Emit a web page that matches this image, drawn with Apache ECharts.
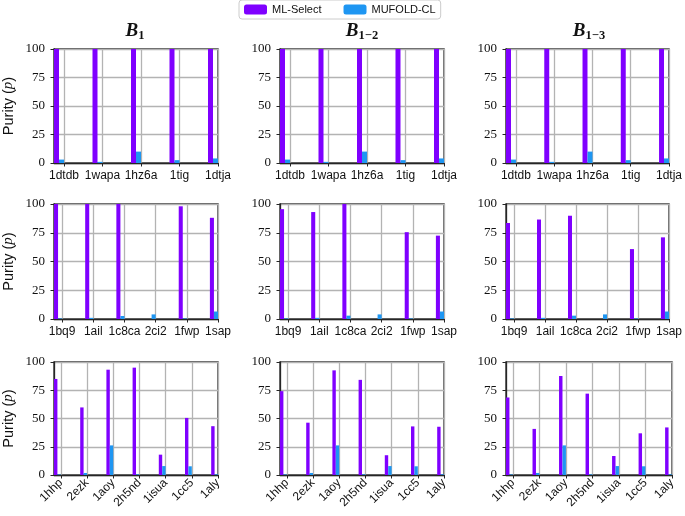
<!DOCTYPE html>
<html>
<head>
<meta charset="utf-8">
<script src="https://cdn.jsdelivr.net/npm/echarts@6/dist/echarts.min.js"></script>
<style>html,body{margin:0;padding:0;background:#fff}#c{width:685px;height:516px}</style>
</head>
<body>
<div id="c"></div>
<script>
const legendNames = ['ML-Select', 'MUFOLD-CL'];
const panelSubscripts = ['1', '1\u22122', '1\u22123'];
const yTickValues = [0, 25, 50, 75, 100];

const row1Categories = ['1dtdb', '1wapa', '1hz6a', '1tig', '1dtja'];
const row2Categories = ['1bq9', '1ail', '1c8ca', '2ci2', '1fwp', '1sap'];
const row3Categories = ['1hhp', '2ezk', '1aoy', '2h5nd', '1isua', '1cc5', '1aly'];

// Row 1
const mlSelectRow1B1   = [100, 100, 100, 100, 100];
const mufoldRow1B1     = [3, 1, 10, 2.5, 4];
const mlSelectRow1B12  = [100, 100, 100, 100, 100];
const mufoldRow1B12    = [3, 1, 10, 2.5, 4];
const mlSelectRow1B13  = [100, 100, 100, 100, 100];
const mufoldRow1B13    = [3, 1, 10, 2.5, 4];
// Row 2
const mlSelectRow2B1   = [100, 100, 100, null, 98, 88];
const mufoldRow2B1     = [0.5, 1, 2.6, 4, 0.5, 6.5];
const mlSelectRow2B12  = [95.5, 93, 100, null, 75.5, 72.5];
const mufoldRow2B12    = [0.5, 1, 2.9, 4, 0.5, 6.5];
const mlSelectRow2B13  = [83.5, 86.5, 89.8, null, 60.8, 71];
const mufoldRow2B13    = [0.5, 1, 2.9, 4, 0.5, 6.5];
// Row 3
const mlSelectRow3B1   = [85, 59.8, 93.2, 95, 18, 50.5, 43.2];
const mufoldRow3B1     = [0.5, 1.8, 26.2, 0.6, 7.9, 7.7, 0.6];
const mlSelectRow3B12  = [74.2, 46.3, 92.6, 84.2, 17.5, 43, 42.7];
const mufoldRow3B12    = [0.5, 1.8, 26.2, 0.6, 7.9, 7.7, 0.6];
const mlSelectRow3B13  = [68.6, 40.8, 87.6, 72, 16.8, 36.9, 42.1];
const mufoldRow3B13    = [0.5, 1.8, 26.2, 0.6, 7.9, 7.7, 0.6];

const rows = [
  { cats: row1Categories, panels: [[mlSelectRow1B1, mufoldRow1B1], [mlSelectRow1B12, mufoldRow1B12], [mlSelectRow1B13, mufoldRow1B13]] },
  { cats: row2Categories, panels: [[mlSelectRow2B1, mufoldRow2B1], [mlSelectRow2B12, mufoldRow2B12], [mlSelectRow2B13, mufoldRow2B13]] },
  { cats: row3Categories, panels: [[mlSelectRow3B1, mufoldRow3B1], [mlSelectRow3B12, mufoldRow3B12], [mlSelectRow3B13, mufoldRow3B13]] }
];

// layout (pixels)
const colLeft = [52, 280, 506];
const colRight = [218, 444, 672];
const rowTop = [49, 204, 362];
const rowBottom = [163, 319, 475];
const colors = ['#7f00ff', '#1e96f2'];
const frameColor = '#262626';
const gridColor = '#b3b3b3';

const chart = echarts.init(document.getElementById('c'));

const grids = [], xAxes = [], yAxes = [], series = [], titles = [];
rows.forEach((row, r) => {
  const cats = row.cats;
  const idx = cats.map((_, i) => i);
  row.panels.forEach((pair, c) => {
    const g = grids.length;
    grids.push({
      left: colLeft[c], top: rowTop[r],
      width: colRight[c] - colLeft[c], height: rowBottom[r] - rowTop[r],
      show: true, borderColor: frameColor, borderWidth: 1.3, backgroundColor: 'transparent'
    });
    xAxes.push({
      type: 'value', gridIndex: g, min: -0.26, max: cats.length - 1,
      axisLine: { show: true, onZero: false, lineStyle: { color: frameColor, width: 1.3 } },
      axisTick: { show: true, customValues: idx, length: 3.5, lineStyle: { color: frameColor, width: 1 } },
      axisLabel: {
        customValues: idx,
        formatter: v => cats[Math.round(v)],
        fontFamily: 'Liberation Sans', fontSize: 12, color: '#111',
        margin: r === 2 ? 6 : 7,
        rotate: r === 2 ? 45 : 0
      },
      splitLine: { show: true, lineStyle: { color: gridColor, width: 1.3 } }
    });
    const yAxis = {
      type: 'value', gridIndex: g, min: 0, max: 100, interval: 25,
      axisLine: { show: true, onZero: false, lineStyle: { color: frameColor, width: 1.3 } },
      axisTick: { show: true, length: 3.5, lineStyle: { color: frameColor, width: 1 } },
      axisLabel: { fontFamily: 'Liberation Serif', fontSize: 13, color: '#111', margin: 9 },
      splitLine: { show: true, lineStyle: { color: gridColor, width: 1.3 } }
    };
    if (c === 0) {
      yAxis.name = '{t|Purity (}{p|p}{t|)}';
      yAxis.nameLocation = 'middle';
      yAxis.nameGap = 38;
      yAxis.nameRotate = 90;
      yAxis.nameTextStyle = {
        rich: {
          t: { fontFamily: 'Liberation Sans', fontSize: 14.5, color: '#111' },
          p: { fontFamily: 'Liberation Serif', fontStyle: 'italic', fontSize: 15, color: '#111' }
        }
      };
    }
    yAxes.push(yAxis);
    pair.forEach((vals, s) => {
      series.push({
        type: 'bar', name: legendNames[s], xAxisIndex: g, yAxisIndex: g,
        data: vals.map((v, i) => [i, v]).filter(d => d[1] != null),
        barWidth: '13%', barGap: '0%',
        itemStyle: { color: colors[s] },
        emphasis: { disabled: true },
        z: 3
      });
    });
    // empty spacer series so the pair of bars sits just left of each tick
    series.push({
      type: 'bar', name: 'spacer', xAxisIndex: g, yAxisIndex: g,
      data: [], barWidth: '26%', barGap: '0%'
    });
    if (r === 0) {
      titles.push({
        text: '{b|B}{s|' + panelSubscripts[c] + '}',
        left: (colLeft[c] + colRight[c]) / 2, top: 20,
        textAlign: 'center', padding: 0,
        textStyle: {
          rich: {
            b: { fontFamily: 'Liberation Serif', fontStyle: 'italic', fontSize: 19, color: '#111', lineHeight: 22 },
            s: { fontFamily: 'Liberation Serif', fontSize: 12.5, color: '#111', lineHeight: 22, padding: [9, 0, 0, 0] }
          }
        }
      });
    }
  });
});

chart.setOption({
  animation: false,
  backgroundColor: '#fff',
  title: titles,
  grid: grids,
  xAxis: xAxes,
  yAxis: yAxes,
  series: series,
  legend: {
    data: legendNames,
    left: 239, top: 0,
    itemWidth: 23, itemHeight: 10, itemGap: 22,
    padding: [4, 5, 4, 5],
    borderColor: '#cccccc', borderWidth: 1, borderRadius: 3,
    backgroundColor: '#fff',
    textStyle: { fontFamily: 'Liberation Sans', fontSize: 11, color: '#111' }
  }
});
</script>
</body>
</html>
